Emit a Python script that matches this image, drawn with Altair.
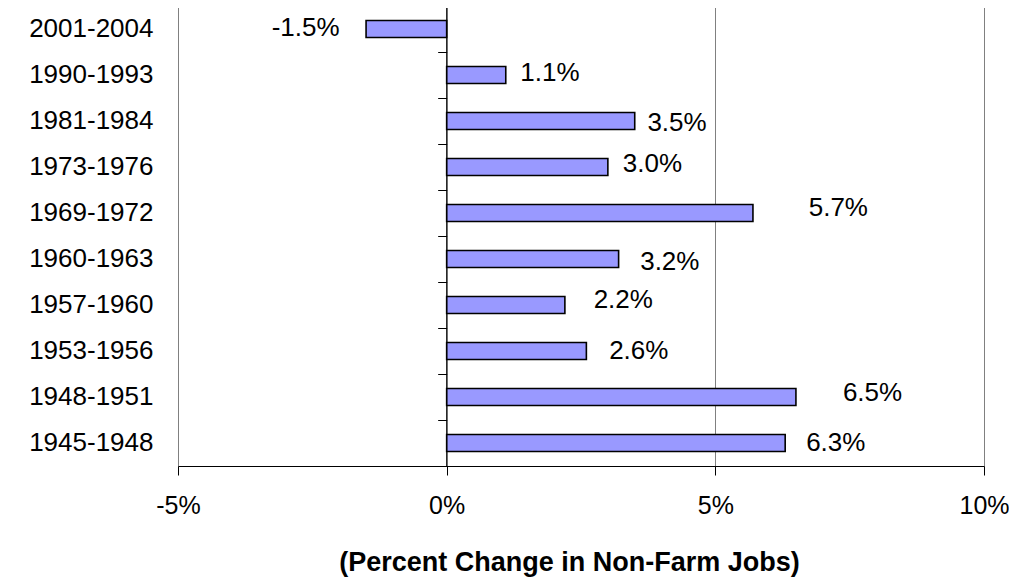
import altair as alt
import pandas as pd

# ---- data ----
periods = ["2001-2004", "1990-1993", "1981-1984", "1973-1976", "1969-1972",
           "1960-1963", "1957-1960", "1953-1956", "1948-1951", "1945-1948"]
changes = [-1.5, 1.1, 3.5, 3.0, 5.7, 3.2, 2.2, 2.6, 6.5, 6.3]
value_labels = ["-1.5%", "1.1%", "3.5%", "3.0%", "5.7%",
                "3.2%", "2.2%", "2.6%", "6.5%", "6.3%"]
x_ticks = [-5, 0, 5, 10]
x_title = "(Percent Change in Non-Farm Jobs)"

df = pd.DataFrame({"period": periods, "change": changes, "label": value_labels})

# ---- styling: pixel nudges of the value labels (Excel-style placement) ----
label_dx = [-60.4, 44.2, 42.3, 44.6, 85.4, 51.2, 58.4, 52.4, 76.6, 50.6]
label_dy = [-0.8, -2.5, 1.5, -2.9, -5.5, 3.0, -5.5, -0.5, -4.5, 0.1]

FONT = "Liberation Sans"
FS = 26
W, H = 806, 460

x_enc = alt.X(
    "change:Q",
    scale=alt.Scale(domain=[-5, 10], nice=False, zero=False),
    axis=alt.Axis(
        values=x_ticks, labelExpr="datum.value + '%'",
        title=x_title, grid=True, gridColor="#808080", gridWidth=1,
        domainColor="black", domainWidth=1, tickColor="black", tickSize=9, tickWidth=1,
        labelFont=FONT, labelFontSize=25, labelColor="black", labelPadding=18,
        labelFlush=False, labelOverlap=False,
        titleFont=FONT, titleFontSize=27, titleFontWeight="bold", titleColor="black",
        titleX=391, titleY=83, titleBaseline="top", titleAlign="center",
    ),
)

y_scale = alt.Scale(domain=periods, paddingInner=0, paddingOuter=0)

y_main = alt.Y(
    "period:N", scale=y_scale,
    axis=alt.Axis(title=None, domain=False, ticks=False, grid=False,
                  labelFont=FONT, labelFontSize=FS, labelColor="black",
                  labelPadding=25, labelBaseline="middle", labelLimit=400),
)

y_ticks = alt.Y(
    "period:N", scale=y_scale,
    axis=alt.Axis(orient="left", offset=-268.67, title=None, labels=False, domain=False,
                  ticks=True, tickBand="extent", tickSize=9, tickColor="black",
                  tickWidth=1, grid=False),
)

bars = alt.Chart(df).mark_bar(size=17, fill="#9999FF", stroke="black", strokeWidth=1.6).encode(
    x=x_enc, y=y_main
)

zero = alt.Chart(df).transform_filter(alt.datum.period == periods[0]).mark_rule(
    color="black", strokeWidth=1
).encode(x=alt.datum(0))

tick_layer = alt.Chart(df).mark_point(opacity=0).encode(x=x_enc, y=y_ticks)

texts = []
for i, p in enumerate(periods):
    texts.append(
        alt.Chart(df).transform_filter(alt.datum.period == p).mark_text(
            font=FONT, fontSize=FS, color="black", align="center", baseline="middle",
            dx=label_dx[i], dy=label_dy[i],
        ).encode(x=x_enc, y=alt.Y("period:N", scale=y_scale, axis=None), text="label:N")
    )

chart = (
    alt.layer(bars, zero, tick_layer, *texts)
    .resolve_axis(y="independent")
    .properties(
        width=W, height=H,
        autosize=alt.AutoSizeParams(type="none"),
        padding={"left": 170, "top": -2, "right": 25, "bottom": 112},
    )
    .configure_view(stroke="#808080", strokeWidth=1)
    .configure(background="white")
)

chart.save("out.html", embed_options={"renderer": "svg", "actions": False})
